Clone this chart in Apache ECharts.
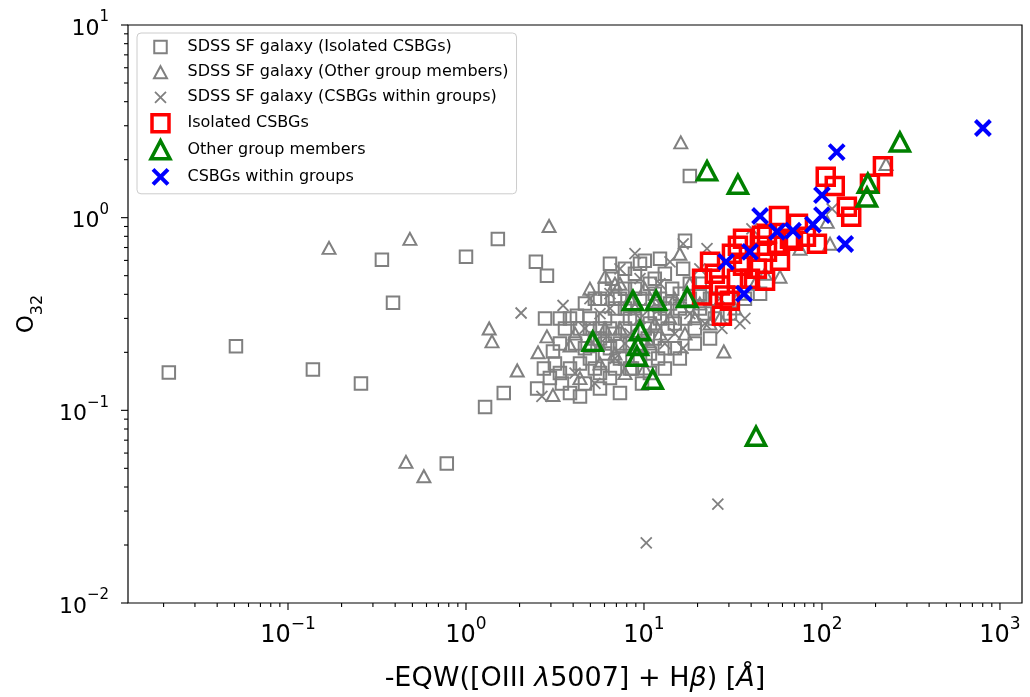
<!DOCTYPE html>
<html>
<head>
<meta charset="utf-8">
<script src="https://cdn.jsdelivr.net/npm/echarts@6/dist/echarts.min.js"></script>
<style>
  html, body { margin: 0; padding: 0; background: #fff; }
  #chart { width: 1030px; height: 697px; }
</style>
</head>
<body>
<div id="chart"></div>
<script>
// SDSS star-forming comparison sample, split by the CSBG class it is matched to
const sdssIsolated = [
  [0.0214,0.157],[0.051,0.215],[0.138,0.163],[0.257,0.138],[0.337,0.604],[0.389,0.362],
  [1.0,0.627],[1.51,0.776],[2.47,0.590],[2.85,0.50],[1.28,0.104],[1.63,0.123],[0.78,0.053],
  [2.78,0.300],[3.08,0.202],[2.74,0.165],[2.96,0.147],[2.51,0.130],[3.46,0.138],[3.84,0.165],
  [4.37,0.118],[4.20,0.310],[3.6,0.266],[4.66,0.358],[4.97,0.300],[5.3,0.236],[5.66,0.380],
  [6.04,0.197],[6.44,0.266],[6.61,0.482],[6.87,0.338],[7.33,0.123],[7.33,0.222],[7.82,0.428],
  [8.34,0.300],[8.56,0.165],[8.9,0.512],[9.5,0.380],[9.75,0.138],[10.1,0.598],[10.5,0.236],
  [10.8,0.454],[11.5,0.318],[12.0,0.186],[12.3,0.380],[13.1,0.512],[13.6,0.266],[14.4,0.428],
  [14.9,0.210],[15.9,0.338],[16.6,0.543],[17.0,0.759],[18.1,1.645],[18.1,0.380],[19.3,0.266],
  [20.6,0.454],[22.0,0.318],[23.5,0.380],[25.0,0.300],[5.66,0.156],[4.97,0.186],[4.1,0.222],
  [3.37,0.222],[6.44,0.147],[7.82,0.186],[9.5,0.186],[11.5,0.482],[7.33,0.380],[6.04,0.300],
  [8.34,0.222],[10.8,0.282],[13.1,0.338],[17.0,0.300],[4.66,0.138],[3.16,0.175],[5.66,0.266],
  [5.3,0.380],[6.04,0.428],[6.87,0.380],[7.82,0.338],[8.9,0.300],[10.1,0.266],[11.5,0.236],
  [13.1,0.210],[4.97,0.266],[5.66,0.236],[6.44,0.210],[7.33,0.186],[8.34,0.165],[9.5,0.222],
  [10.8,0.197],[12.3,0.300],[14.0,0.358],[15.9,0.403],[18.1,0.454],[20.6,0.403],[14.9,0.282],
  [11.5,0.403],[8.9,0.428],[7.82,0.266],[6.87,0.250],[6.04,0.222],[4.66,0.210],[4.37,0.175],
  [5.3,0.165],[6.87,0.165],[3.84,0.300],[4.37,0.266],[3.37,0.300],[6.44,0.577],[7.82,0.543],
  [9.5,0.577],[12.3,0.612],[20.6,0.338],[25.0,0.380],[30.4,0.318],[36.9,0.380],[44.9,0.403],
  [23.5,0.236],[19.3,0.222],[15.9,0.186],[13.1,0.165],[10.8,0.156],[5.66,0.130],[3.84,0.123],
  [3.37,0.156]
];
const sdssOther = [
  [0.170,0.697],[0.484,0.776],[0.46,0.054],[0.58,0.0455],[1.35,0.266],[1.40,0.228],[1.94,0.161],
  [2.93,0.905],[16.1,2.46],[2.54,0.200],[2.85,0.242],[3.08,0.120],[4.1,0.250],[3.84,0.217],
  [4.97,0.428],[6.04,0.494],[6.87,0.454],[7.33,0.266],[8.9,0.338],[10.1,0.428],[12.3,0.250],
  [14.0,0.300],[15.9,0.650],[18.1,0.454],[20.6,0.358],[23.5,0.282],[28.1,0.202],[32.4,0.338],
  [42.0,0.454],[58.1,0.494],[75.2,0.690],[111,0.732],[229,1.90],[107,0.951],[5.66,0.175],
  [7.82,0.156],[10.8,0.222],[6.87,0.197],[17.0,0.250],
  [6.04,0.266],[8.34,0.380],[11.5,0.282],[14.9,0.380],[4.97,0.222],[7.33,0.454],[10.1,0.165],
  [19.3,0.300],[26.7,0.300],[34.6,0.403],[47.9,0.512],[4.37,0.147]
];
const sdssWithin = [
  [2.04,0.32],[10.3,0.0205],[26.0,0.0326],[3.51,0.350],[2.67,0.118],[4.97,0.380],[5.66,0.222],
  [6.44,0.403],[7.33,0.543],[8.34,0.250],[9.5,0.482],[10.1,0.210],[11.5,0.380],[13.1,0.222],
  [14.0,0.590],[16.6,0.732],[22.6,0.690],[27.4,0.266],[16.6,0.210],[40.4,0.875],[114,1.11],
  [4.1,0.156],[5.3,0.138],[6.44,0.338],[9.5,0.300],[20.6,0.543],[26.7,0.380],[34.6,0.282],
  [18.1,0.318],
  [5.66,0.318],[7.82,0.222],[10.8,0.338],[14.9,0.250],[6.87,0.186],[12.3,0.454],[4.66,0.266],
  [22.0,0.282],[8.9,0.650],[36.9,0.300]
];

// CSBG samples
const isolatedCSBGs = [
  [220,1.85],[105,1.63],[118,1.46],[186,1.50],[138,1.14],[146,1.01],[57.3,1.02],[73.3,0.93],
  [93.7,0.732],[68.7,0.759],[49.1,0.824],[44.9,0.715],[33.7,0.715],[31.2,0.650],[58.1,0.598],
  [47.9,0.471],[43.1,0.543],[23.5,0.590],[21.2,0.482],[21.2,0.394],[27.4,0.310],[30.4,0.371],
  [26.7,0.444],[36.0,0.563],[39.4,0.482],[36.0,0.777],[33.3,0.482],[28.5,0.394],[46.0,0.805],
  [56.6,0.715],[66.1,0.777],[49.1,0.665],[25.0,0.512],[81.3,0.796]
];
const otherGroupMembers = [
  [22.6,1.75],[33.7,1.49],[274,2.47],[181,1.51],[179,1.28],[42.6,0.0734],[5.15,0.228],
  [8.67,0.371],[11.7,0.371],[17.5,0.385],[9.5,0.259],[9.25,0.217],[9.14,0.191],[11.2,0.145]
];
const csbgsWithinGroups = [
  [802,2.92],[121,2.19],[100,1.31],[100,1.03],[89,0.92],[135,0.73],[44.9,1.02],[55.9,0.845],
  [68.7,0.855],[39.4,0.665],[28.9,0.59],[36.5,0.403]
];

// axis ranges and tick positions
const X_MIN = 0.01262, X_MAX = 1330;
const Y_MIN = 0.01, Y_MAX = 10;
const xMajorTicks = [0.1, 1, 10, 100, 1000];
const yMajorTicks = [0.01, 0.1, 1, 10];
const xMinorTicks = [0.02,0.03,0.04,0.05,0.06,0.07,0.08,0.09,
  0.2,0.3,0.4,0.5,0.6,0.7,0.8,0.9, 2,3,4,5,6,7,8,9,
  20,30,40,50,60,70,80,90, 200,300,400,500,600,700,800,900];
const yMinorTicks = [0.02,0.03,0.04,0.05,0.06,0.07,0.08,0.09,
  0.2,0.3,0.4,0.5,0.6,0.7,0.8,0.9, 2,3,4,5,6,7,8,9];

const FONT = 'DejaVu Sans';
const GRAY = '#808080', RED = '#ff0000', GREEN = '#008000', BLUE = '#0000ff';
const CROSS = 'path://M0,0L10,10M10,0L0,10';
const NONE = 'rgba(0,0,0,0)';

function powLabel(v) {
  const e = Math.round(Math.log10(v));
  return '{b|10}{s|' + String(e).replace('-', '\u2212') + '}';
}
function powRich(size) {
  return {
    b: { fontFamily: FONT, fontSize: size, lineHeight: size + 8, color: '#000', verticalAlign: 'bottom' },
    s: { fontFamily: FONT, fontSize: Math.round(size * 0.7), lineHeight: Math.round(size * 0.8), color: '#000', verticalAlign: 'top' }
  };
}

function tickSeries(values, onX, len) {
  return {
    type: 'custom',
    coordinateSystem: 'cartesian2d',
    silent: true,
    clip: false,
    z: 6,
    data: values.map(v => onX ? [v, Y_MIN] : [X_MIN, v]),
    renderItem: function (params, api) {
      const p = api.coord([api.value(0), api.value(1)]);
      const shape = onX
        ? { x1: p[0], y1: p[1], x2: p[0], y2: p[1] + len }
        : { x1: p[0], y1: p[1], x2: p[0] - len, y2: p[1] };
      return { type: 'line', shape: shape, style: { stroke: '#000', lineWidth: 1.1 } };
    }
  };
}

function scatter(name, data, symbol, size, color, width, z) {
  return {
    name: name, type: 'scatter', data: data, symbol: symbol, symbolSize: size, z: z,
    itemStyle: { color: NONE, borderColor: color, borderWidth: width, opacity: 1 },
    emphasis: { disabled: true }
  };
}

const chart = echarts.init(document.getElementById('chart'), null, { renderer: 'canvas' });
chart.setOption({
  animation: false,
  backgroundColor: '#fff',
  grid: {
    left: 128, top: 25, right: 8, bottom: 92,
    show: true, borderColor: '#000', borderWidth: 1.2, backgroundColor: NONE
  },
  xAxis: {
    type: 'log', logBase: 10, min: X_MIN, max: X_MAX,
    splitLine: { show: false },
    axisLine: { show: false },
    axisTick: { show: false },
    minorTick: { show: false },
    axisLabel: {
      customValues: xMajorTicks, margin: 13,
      formatter: powLabel, rich: powRich(24)
    },
    name: '{n|-EQW([OIII }{i|\u03bb}{n|5007] + H}{i|\u03b2}{n|) [}{i|\u00c5}{n|]}',
    nameLocation: 'middle', nameGap: 62,
    nameTextStyle: {
      rich: {
        n: { fontFamily: FONT, fontSize: 27, color: '#000' },
        i: { fontFamily: FONT, fontSize: 27, fontStyle: 'italic', color: '#000' }
      }
    }
  },
  yAxis: {
    type: 'log', logBase: 10, min: Y_MIN, max: Y_MAX,
    splitLine: { show: false },
    axisLine: { show: false },
    axisTick: { show: false },
    minorTick: { show: false },
    axisLabel: {
      customValues: yMajorTicks, margin: 19,
      formatter: powLabel, rich: powRich(22)
    },
    name: '{n|O}{s|32}',
    nameLocation: 'middle', nameGap: 82, nameRotate: 90,
    nameTextStyle: {
      rich: {
        n: { fontFamily: FONT, fontSize: 23, lineHeight: 30, color: '#000', verticalAlign: 'top' },
        s: { fontFamily: FONT, fontSize: 16, lineHeight: 16, color: '#000', verticalAlign: 'bottom' }
      }
    }
  },
  legend: {
    orient: 'vertical', left: 137, top: 33,
    padding: [1.5, 8, 3.5, 10],
    itemWidth: 44, itemHeight: 23, itemGap: 0.2,
    backgroundColor: 'rgba(255,255,255,0.8)',
    borderColor: '#cccccc', borderWidth: 1, borderRadius: 4,
    textStyle: { fontFamily: FONT, fontSize: 16, color: '#000' },
    selectedMode: false,
    data: [
      { name: 'SDSS SF galaxy (Isolated CSBGs)',
        icon: 'path://M0,0M23,23M5.25,5.25L17.75,5.25L17.75,17.75L5.25,17.75Z',
        itemStyle: { color: NONE, borderColor: GRAY, borderWidth: 2 } },
      { name: 'SDSS SF galaxy (Other group members)',
        icon: 'path://M0,0M23,23M11.5,5.5L18,17.5L5,17.5Z',
        itemStyle: { color: NONE, borderColor: GRAY, borderWidth: 2 } },
      { name: 'SDSS SF galaxy (CSBGs within groups)',
        icon: 'path://M0,0M23,23M6,6L17,17M17,6L6,17',
        itemStyle: { color: NONE, borderColor: GRAY, borderWidth: 1.8 } },
      { name: 'Isolated CSBGs',
        icon: 'path://M0,0M23,23M3,3L20,3L20,20L3,20Z',
        itemStyle: { color: NONE, borderColor: RED, borderWidth: 3.5 } },
      { name: 'Other group members',
        icon: 'path://M0,0M23,23M11.5,2.5L21,20.5L2,20.5Z',
        itemStyle: { color: NONE, borderColor: GREEN, borderWidth: 3.5 } },
      { name: 'CSBGs within groups',
        icon: 'path://M0,0M23,23M4,4L19,19M19,4L4,19',
        itemStyle: { color: NONE, borderColor: BLUE, borderWidth: 4 } }
    ]
  },
  series: [
    scatter('SDSS SF galaxy (Isolated CSBGs)', sdssIsolated, 'rect', 12.5, GRAY, 2, 2),
    scatter('SDSS SF galaxy (Other group members)', sdssOther, 'triangle', [13, 12], GRAY, 2, 2),
    scatter('SDSS SF galaxy (CSBGs within groups)', sdssWithin, CROSS, 11, GRAY, 1.8, 2),
    scatter('Isolated CSBGs', isolatedCSBGs, 'rect', 17, RED, 3.5, 3),
    scatter('Other group members', otherGroupMembers, 'triangle', [19, 18], GREEN, 3.5, 4),
    scatter('CSBGs within groups', csbgsWithinGroups, CROSS, 15, BLUE, 4, 5),
    tickSeries(xMajorTicks, true, 7),
    tickSeries(xMinorTicks, true, 4),
    tickSeries(yMajorTicks, false, 7),
    tickSeries(yMinorTicks, false, 4)
  ]
});
</script>
</body>
</html>
